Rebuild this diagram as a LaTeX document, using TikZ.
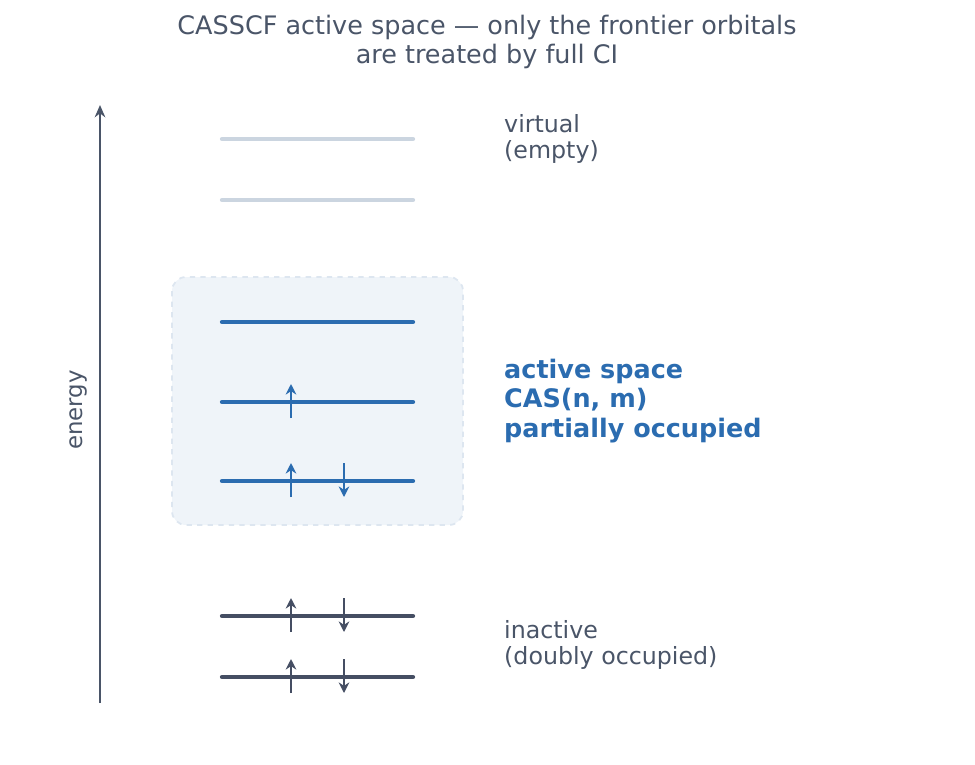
\documentclass[tikz,border=0pt]{standalone}
\usepackage{fontspec}
\setmainfont{DejaVu Sans}
\usetikzlibrary{arrows.meta}
\definecolor{ink}{HTML}{4A5568}
\definecolor{virt}{HTML}{CBD5E0}
\definecolor{act}{HTML}{2B6CB0}
\definecolor{inact}{HTML}{454E63}
\definecolor{boxfill}{HTML}{EFF4F9}
\definecolor{boxline}{HTML}{DDE6F0}
\newcommand{\level}[3]{\draw[#1] (222,#2) coordinate (#3l) -- (413,#2) coordinate (#3r);}
\newcommand{\spinup}[3]{\draw[spin,#1] (291,#2+16) -- (291,#2-18) node[coordinate] (#3) {};}
\newcommand{\spindn}[3]{\draw[spin,#1] (344,#2-18) -- (344,#2+16) node[coordinate] (#3) {};}
\begin{document}
\begin{tikzpicture}[x=0.02cm,y=-0.02cm,
    lvl/.style={line width=2.4pt,line cap=round},
    spin/.style={line width=1.4pt,-{Stealth[length=6pt,width=6pt]}},
    lbl/.style={anchor=west,align=left,text=ink,font=\fontsize{13.5}{15}\selectfont}]
        \useasboundingbox (0,0) rectangle (975,765);

        % title
        \node[text=ink,align=center,font=\fontsize{14.5}{17}\selectfont] (title) at (487,42)
            {CASSCF active space — only the frontier orbitals\\are treated by full CI};

        % energy axis
        \coordinate (e0) at (100,703);
        \coordinate (e1) at (100,105);
        \draw[ink,line width=1.4pt,-{Stealth[length=7pt,width=6pt]}] (e0) -- (e1);
        \node[rotate=90,text=ink,font=\fontsize{13}{15}\selectfont] (elab) at (78,410) {energy};

        % active box
        \draw[boxline,fill=boxfill,dashed,line width=1pt,rounded corners=8pt] (172,277) rectangle (463,525);

        % virtual
        \level{virt,lvl}{139}{v2}
        \level{virt,lvl}{200}{v1}
        % active
        \level{act,lvl}{322}{a3}
        \level{act,lvl}{402}{a2}
        \level{act,lvl}{481}{a1}
        \spinup{act}{402}{u2}
        \spinup{act}{481}{u1}
        \spindn{act}{481}{d1}
        % inactive
        \level{inact,lvl}{616}{i2}
        \level{inact,lvl}{677}{i1}
        \spinup{inact}{616}{u4}
        \spindn{inact}{616}{d4}
        \spinup{inact}{677}{u3}
        \spindn{inact}{677}{d3}

        % labels
        \node[lbl] (vlab) at (498,139) {virtual\\(empty)};
        \node[lbl,text=act,font=\fontsize{14.5}{17}\selectfont\bfseries] (alab) at (498,401)
            {active space\\CAS(n, m)\\partially occupied};
        \node[lbl] (ilab) at (498,645) {inactive\\(doubly occupied)};
\end{tikzpicture}
\end{document}
